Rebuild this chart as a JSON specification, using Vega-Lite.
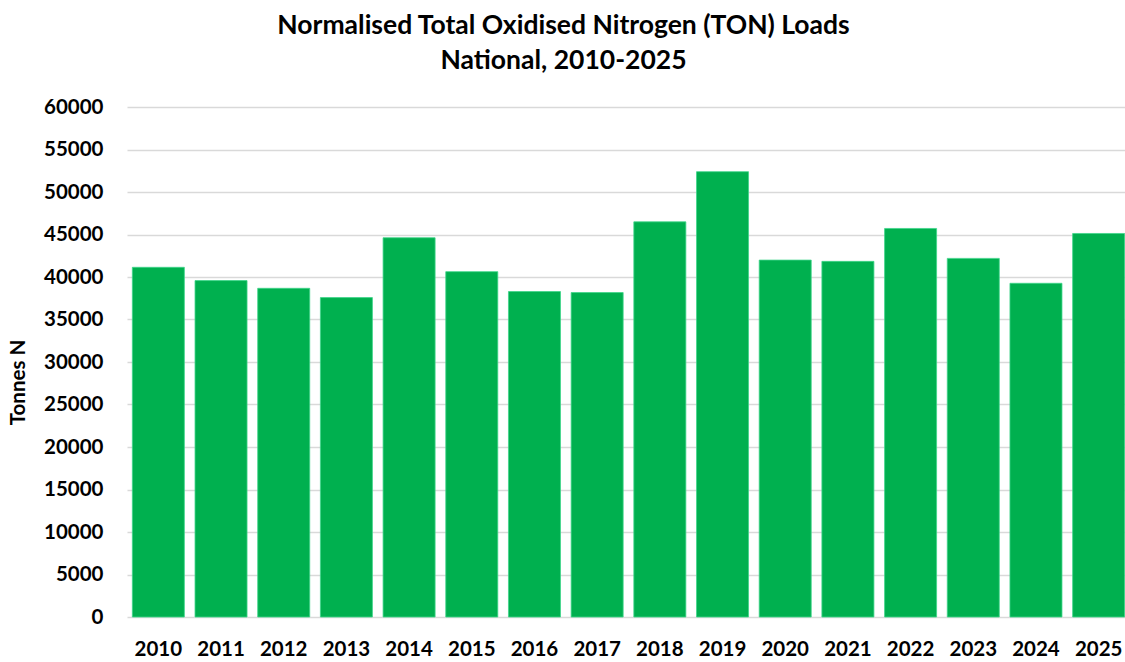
{
  "$schema": "https://vega.github.io/schema/vega-lite/v6.json",
  "width": 1003,
  "height": 510,
  "autosize": {"type": "none"},
  "padding": {"left": 127, "top": 107, "right": 0, "bottom": 45},
  "background": "white",
  "title": {
    "text": ["Normalised Total Oxidised Nitrogen (TON) Loads", "National, 2010-2025"],
    "font": "Lato",
    "fontSize": 26.5,
    "fontWeight": "bold",
    "color": "#000000",
    "anchor": "middle",
    "dx": -65,
    "lineHeight": 35,
    "offset": 23
  },
  "data": {
    "values": [
      {"year": "2010", "load": 41140},
      {"year": "2011", "load": 39580},
      {"year": "2012", "load": 38670},
      {"year": "2013", "load": 37580},
      {"year": "2014", "load": 44620},
      {"year": "2015", "load": 40630},
      {"year": "2016", "load": 38290},
      {"year": "2017", "load": 38170},
      {"year": "2018", "load": 46490},
      {"year": "2019", "load": 52390},
      {"year": "2020", "load": 41990},
      {"year": "2021", "load": 41840},
      {"year": "2022", "load": 45710},
      {"year": "2023", "load": 42190},
      {"year": "2024", "load": 39260},
      {"year": "2025", "load": 45120}
    ]
  },
  "mark": {"type": "bar", "color": "#00b04f", "stroke": "#3fd58a", "strokeWidth": 0.8},
  "encoding": {
    "x": {
      "field": "year",
      "type": "nominal",
      "sort": null,
      "scale": {"paddingInner": 0.17, "paddingOuter": 0.085},
      "axis": {
        "title": null,
        "labelAngle": 0,
        "labelFont": "Lato",
        "labelFontSize": 20.5,
        "labelFontWeight": "bold",
        "labelColor": "#000000",
        "labelPadding": 22,
        "ticks": false,
        "domain": false,
        "grid": false
      }
    },
    "y": {
      "field": "load",
      "type": "quantitative",
      "scale": {"domain": [0, 60000], "nice": false},
      "axis": {
        "title": "Tonnes N",
        "titleFont": "Lato",
        "titleFontSize": 20.5,
        "titleFontWeight": "bold",
        "titleColor": "#000000",
        "titleX": -99,
        "titleY": 275,
        "values": [0, 5000, 10000, 15000, 20000, 25000, 30000, 35000, 40000, 45000, 50000, 55000, 60000],
        "format": "d",
        "labelFont": "Lato",
        "labelFontSize": 20.5,
        "labelFontWeight": "bold",
        "labelColor": "#000000",
        "labelPadding": 24,
        "ticks": false,
        "domain": false,
        "grid": true,
        "gridColor": "#d9d9d9",
        "gridWidth": 1.3
      }
    }
  },
  "config": {"view": {"stroke": null}}
}
